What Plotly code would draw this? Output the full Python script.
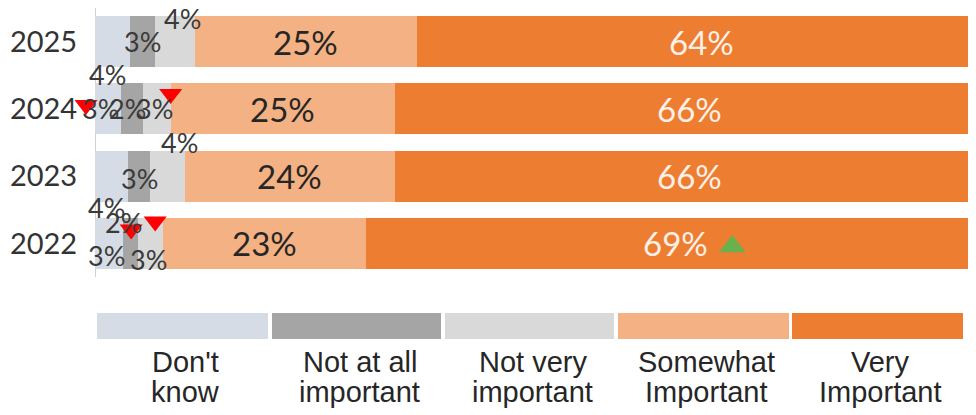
import plotly.graph_objects as go

# ---------------- data ----------------
years = ["2025", "2024", "2023", "2022"]
series_names = ["Don't know", "Not at all important", "Not very important",
                "Somewhat Important", "Very Important"]
dont_know = [3.9, 2.9, 3.7, 3.1]
not_at_all = [2.8, 2.5, 2.5, 1.7]
not_very = [4.5, 3.1, 3.9, 2.8]
somewhat = [25.0, 25.2, 23.6, 22.8]
very = [63.8, 66.3, 66.3, 69.6]
somewhat_labels = ["25%", "25%", "24%", "23%"]
very_labels = ["64%", "66%", "66%", "69%"]
legend_line1 = ["Don't", "Not at all", "Not very", "Somewhat", "Very"]
legend_line2 = ["know", "important", "important", "Important", "Important"]

# small data labels: year, series index, text
small_year = ["2025", "2025", "2024", "2024", "2024", "2024",
              "2023", "2023", "2022", "2022", "2022", "2022"]
small_series = [1, 2, 0, 0, 1, 2, 1, 2, 0, 1, 0, 2]
small_text = ["3%", "4%", "4%", "3%", "2%", "3%",
              "3%", "4%", "4%", "2%", "3%", "3%"]

# significance markers: year, series index, direction
sig_year = ["2024", "2024", "2022", "2022", "2022"]
sig_series = [0, 2, 1, 2, 4]
sig_dir = ["down", "down", "down", "down", "up"]

# ---------------- layout constants ----------------
PAGE_OFF = 8                 # default body margin of the html page
W, H = 976 - PAGE_OFF, 415 - PAGE_OFF
PX_X = 8.9                   # pixels per percentage point
AXIS_PX = 95 - PAGE_OFF      # figure pixel of the 0% line
ML, MR, MT = 76, 0, 0
PLOT_H = 269
MB = H - MT - PLOT_H
X_MIN = -(AXIS_PX - ML) / PX_X
X_MAX = X_MIN + (W - ML - MR) / PX_X
PX_Y = PLOT_H / 4.0

colors = ["#D6DCE5", "#A5A5A5", "#D9D9D9", "#F4B183", "#ED7D31"]
series_vals = [dont_know, not_at_all, not_very, somewhat, very]
ypos = {y: 3 - i for i, y in enumerate(years)}
yvals = [ypos[y] for y in years]

FONT = "Lato, Carlito, Calibri, sans-serif"

fig = go.Figure()
for k, (name, vals, col) in enumerate(zip(series_names, series_vals, colors)):
    fig.add_trace(go.Bar(x=vals, y=yvals, orientation="h", name=name,
                         marker=dict(color=col, line=dict(width=0)),
                         width=0.76, showlegend=False, hoverinfo="skip"))


def seg_start(year, k):
    i = years.index(year)
    return sum(series_vals[j][i] for j in range(k))


def seg_center(year, k):
    i = years.index(year)
    return seg_start(year, k) + series_vals[k][i] / 2


# big labels for the two Important series
for yr, t in zip(years, somewhat_labels):
    fig.add_annotation(x=seg_center(yr, 3), y=ypos[yr], text=t, showarrow=False,
                       font=dict(size=33, color="#262626", family=FONT))
for yr, t in zip(years, very_labels):
    fig.add_annotation(x=seg_center(yr, 4), y=ypos[yr], text=t, showarrow=False,
                       font=dict(size=33, color="#FDF0E6", family=FONT))

# small label pixel offsets (dx, dy up)
small_off = [(0, 0), (8, 23), (0, 34), (-7, 0), (-4, 0), (-2, 0),
             (0, -2), (12, 34), (-2, 36), (-7, 21), (-2, -12), (-2, -16)]
for yr, k, t, (dx, dy) in zip(small_year, small_series, small_text, small_off):
    fig.add_annotation(x=seg_center(yr, k), y=ypos[yr], text=t, showarrow=False,
                       xshift=dx, yshift=dy,
                       font=dict(size=27, color="#3A3A3A", family=FONT))

# significance markers
sig_ref = ["start", "end", "center", "center", "center"]
sig_off = [(-9, 4), (0, 15), (1, 14), (5, 22), (57, -3)]
mx, my, msym, mcol, msize = [], [], [], [], []
for yr, k, d, ref, (dx, dy) in zip(sig_year, sig_series, sig_dir, sig_ref, sig_off):
    i = years.index(yr)
    if ref == "start":
        base = seg_start(yr, k)
    elif ref == "end":
        base = seg_start(yr, k) + series_vals[k][i]
    else:
        base = seg_center(yr, k)
    mx.append(base + dx / PX_X)
    my.append(ypos[yr] + dy / PX_Y)
    msym.append("triangle-down" if d == "down" else "triangle-up")
    mcol.append("#FF0000" if d == "down" else "#6AB04C")
    msize.append(20 if d == "down" else 23)
fig.add_trace(go.Scatter(x=mx, y=my, mode="markers", showlegend=False, hoverinfo="skip",
                         cliponaxis=False, opacity=1,
                         marker=dict(symbol=msym, color=mcol, size=msize, opacity=1,
                                     line=dict(width=0))))


# custom legend at bottom (positions given in screen pixels)
def px2paper_x(px):
    return (px - PAGE_OFF - ML) / (W - ML - MR)


def px2paper_y(py):
    return (MT + PLOT_H - (py - PAGE_OFF)) / PLOT_H


box_x = [(97, 268), (272, 441), (445, 614), (618, 789), (792, 963)]
for (x0, x1), col, l1, l2 in zip(box_x, colors, legend_line1, legend_line2):
    fig.add_shape(type="rect", xref="paper", yref="paper",
                  x0=px2paper_x(x0), x1=px2paper_x(x1),
                  y0=px2paper_y(339), y1=px2paper_y(313),
                  fillcolor=col, line=dict(width=0), layer="above")
    cx = px2paper_x((x0 + x1) / 2 + 3)
    for txt, py in ((l1, 362), (l2, 392)):
        fig.add_annotation(xref="paper", yref="paper", x=cx, y=px2paper_y(py),
                           text=txt, showarrow=False, xanchor="center", yanchor="middle",
                           font=dict(size=29, color="#262626",
                                     family="Liberation Sans Narrow, Arial Narrow, Liberation Sans, sans-serif"))

fig.update_layout(
    barmode="stack",
    width=W, height=H,
    margin=dict(l=ML, r=MR, t=MT, b=MB, autoexpand=False),
    paper_bgcolor="white", plot_bgcolor="white",
    xaxis=dict(range=[X_MIN, X_MAX], showgrid=False, zeroline=True, zerolinecolor="#D0D0D0",
               zerolinewidth=1, showticklabels=False, showline=False, automargin=False),
    yaxis=dict(range=[-0.5, 3.5], tickvals=yvals, ticktext=years, showgrid=False,
               zeroline=False, showline=False, automargin=False,
               ticks="outside", ticklen=0, tickcolor="rgba(0,0,0,0)",
               tickfont=dict(size=29, color="#333333", family=FONT)),
)

fig.write_html("out.html")
